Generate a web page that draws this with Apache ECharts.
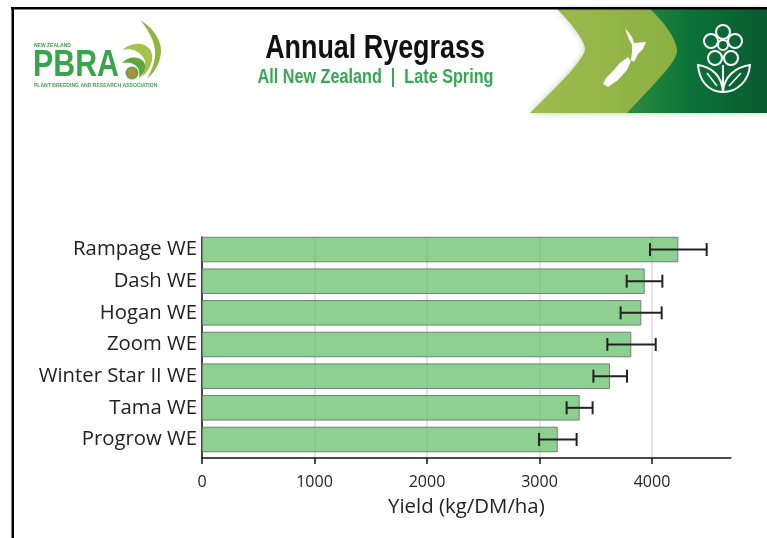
<!DOCTYPE html>
<html>
<head>
<meta charset="utf-8">
<style>
  html, body { margin: 0; padding: 0; background: #fff; }
  #chart { width: 767px; height: 538px; }
</style>
<script src="https://cdn.jsdelivr.net/npm/echarts@6/dist/echarts.min.js"></script>
</head>
<body>
<div id="chart"></div>
<script>
// top to bottom
var categories = ['Rampage WE', 'Dash WE', 'Hogan WE', 'Zoom WE', 'Winter Star II WE', 'Tama WE', 'Progrow WE'];
var yields = [4234, 3935, 3905, 3816, 3627, 3357, 3162];
var errLow = [3982, 3775, 3721, 3603, 3479, 3241, 2996];
var errHigh = [4486, 4092, 4086, 4033, 3778, 3472, 3330];
var xTicks = [0, 1000, 2000, 3000, 4000];

var head = '"Liberation Sans", sans-serif';
var body = '"Open Sans", sans-serif';

var chart = echarts.init(document.getElementById('chart'));

// the graphic component has no plain path type, so each outline gets registered as a shape
var shapeCount = 0;
function art(d, style) {
  var name = 'art' + (shapeCount++);
  echarts.graphic.registerShape(name, echarts.graphic.extendPath(d, {}));
  return { type: name, style: style };
}

// no narrow font is installed, so the header text is squeezed sideways
function squeezed(x, y, sx, text, font, fill, align) {
  return {
    type: 'text', x: x, y: y, scaleX: sx,
    style: { x: 0, y: 0, text: text, font: font, fill: fill, textAlign: align, textVerticalAlign: 'middle' }
  };
}

var whiteLine = { fill: 'none', stroke: '#fff', lineWidth: 2 };

// header artwork: logo, banner, frame
var header = [
  art('M557,9 C572,24 583,38 585,48 C586,56 570,74 530,113 L767,113 L767,9 Z', {
    fill: { type: 'linear', x: 0, y: 0, x2: 1, y2: 0, colorStops: [
      { offset: 0, color: '#9dbb4e' }, { offset: 1, color: '#82a93d' }] },
    shadowBlur: 6, shadowColor: 'rgba(120,140,80,0.45)' }),
  art('M650,9 C664,22 676,38 677,50 C678,60 660,78 627,113 L767,113 L767,9 Z', {
    fill: { type: 'linear', x: 0, y: 0, x2: 1, y2: 0, colorStops: [
      { offset: 0, color: '#2d8c3f' }, { offset: 0.45, color: '#0b7339' }, { offset: 1, color: '#0a5a31' }] } }),
  art('M625,28 L632,37 L634,43 L646,42 L643,49 L638,54 L634,62 L631,60 L632,52 L632,45 L628,37 Z', { fill: '#fff' }),
  art('M628,57 L631,61 L627,70 L618,80 L608,87 L603,84 L606,78 L613,71 L620,63 Z', { fill: '#fff' }),

  // flower icon
  { type: 'circle', shape: { cx: 723, cy: 45, r: 5 }, style: whiteLine },
  { type: 'circle', shape: { cx: 723, cy: 32, r: 7 }, style: whiteLine },
  { type: 'circle', shape: { cx: 735, cy: 41, r: 7 }, style: whiteLine },
  { type: 'circle', shape: { cx: 731, cy: 58, r: 7 }, style: whiteLine },
  { type: 'circle', shape: { cx: 715, cy: 58, r: 7 }, style: whiteLine },
  { type: 'circle', shape: { cx: 711, cy: 41, r: 7 }, style: whiteLine },
  { type: 'line', shape: { x1: 723, y1: 65, x2: 723, y2: 92 }, style: { stroke: '#fff', lineWidth: 2 } },
  art('M723,92 C708,92 699,80 698,65 C712,67 722,76 723,92 Z', whiteLine),
  art('M723,92 C738,92 749,80 750,65 C736,67 724,76 723,92 Z', whiteLine),
  { type: 'line', shape: { x1: 707, y1: 73, x2: 717, y2: 86 }, style: { stroke: '#fff', lineWidth: 1.5 } },
  { type: 'line', shape: { x1: 741, y1: 73, x2: 729, y2: 86 }, style: { stroke: '#fff', lineWidth: 1.5 } },

  // logo
  squeezed(34, 46, 1, 'NEW ZEALAND', 'bold 5px ' + head, '#3aa54a', 'left'),
  squeezed(33, 66, 0.82, 'PBRA', 'bold 37px ' + head, '#37a64a', 'left'),
  squeezed(34, 85, 0.92, 'PLANT BREEDING AND RESEARCH ASSOCIATION', 'bold 5.5px ' + head, '#3aa54a', 'left'),
  art('M140,20 C152,27 162,40 161,52 C160,64 154,73 147,79 C152,70 156,60 155,50 C154,40 148,29 140,20 Z', { fill: '#8fb73e' }),
  art('M122,50 C133,41 146,42 151,51 C155,60 149,71 142,77 C145,69 147,62 143,57 C138,50 130,48 122,50 Z', { fill: '#a5c24f' }),
  art('M122,63 C129,56 139,56 144,62 C147,67 144,74 139,78 C140,72 139,68 135,65 C131,62 127,62 122,63 Z', { fill: '#5fa63f' }),
  { type: 'circle', shape: { cx: 132, cy: 73, r: 6.5 }, style: { fill: '#5aa845' } },
  { type: 'circle', shape: { cx: 132, cy: 73, r: 4.5 }, style: { fill: '#b5893f' } },

  // titles
  squeezed(375, 49, 0.815, 'Annual Ryegrass', 'bold 33px ' + head, '#111', 'center'),
  squeezed(375.5, 77, 0.81, 'All New Zealand  |  Late Spring', 'bold 20px ' + head, '#35a853', 'center'),

  // frame of the slide
  { type: 'rect', shape: { x: 11, y: 7, width: 756, height: 2.5 }, style: { fill: '#000' } },
  { type: 'rect', shape: { x: 11.5, y: 7, width: 2.5, height: 531 }, style: { fill: '#000' } }
];

chart.setOption({
  backgroundColor: '#fff',
  animation: false,
  graphic: { elements: header },
  grid: [
    // frame of the axes
    { left: 202, top: 237, width: 528.75, height: 221 },
    // bands for the bars
    { left: 202, top: 233.7, width: 528.75, height: 221.6 }
  ],
  xAxis: [
    {
      gridIndex: 0, type: 'value', min: 0, max: 4700, interval: 1000,
      name: 'Yield (kg/DM/ha)', nameLocation: 'middle', nameGap: 39,
      nameTextStyle: { fontFamily: body, fontSize: 20.4, color: '#222' },
      axisLine: { show: true, lineStyle: { color: '#111', width: 1.5 } },
      axisTick: { show: true, length: 6, customValues: xTicks, lineStyle: { color: '#111', width: 1.5 } },
      axisLabel: {
        show: true, customValues: xTicks, margin: 16, fontFamily: body, fontSize: 16, color: '#222',
        formatter: function (v) { return String(v); }
      },
      splitLine: { show: true, lineStyle: { color: '#dcdcdc', width: 1.5 } }
    },
    { gridIndex: 1, type: 'value', min: 0, max: 4700, show: false, splitLine: { show: false } }
  ],
  yAxis: [
    {
      gridIndex: 0, type: 'category', data: categories, inverse: true,
      axisLine: { show: true, onZero: false, lineStyle: { color: '#111', width: 1.5 } },
      axisTick: { show: false }, axisLabel: { show: false }, splitLine: { show: false }
    },
    {
      gridIndex: 1, type: 'category', data: categories, inverse: true,
      axisLine: { show: false }, axisTick: { show: false },
      axisLabel: { show: true, margin: 5, fontFamily: body, fontSize: 20.3, color: '#222' }
    }
  ],
  series: [
    {
      type: 'bar', xAxisIndex: 1, yAxisIndex: 1, data: yields,
      barWidth: 25.5,
      itemStyle: { color: 'rgba(98,190,104,0.72)', borderColor: '#6b856d', borderWidth: 1 }
    },
    {
      type: 'custom', xAxisIndex: 1, yAxisIndex: 1, z: 5,
      data: categories.map(function (c, i) { return [i, errLow[i], errHigh[i]]; }),
      encode: { x: [1, 2], y: 0 },
      renderItem: function (params, api) {
        var lo = api.coord([api.value(1), api.value(0)]);
        var hi = api.coord([api.value(2), api.value(0)]);
        var cap = 6.5;
        var st = { stroke: '#222', lineWidth: 2, fill: null };
        return {
          type: 'group',
          children: [
            { type: 'line', shape: { x1: lo[0], y1: lo[1], x2: hi[0], y2: hi[1] }, style: st },
            { type: 'line', shape: { x1: lo[0], y1: lo[1] - cap, x2: lo[0], y2: lo[1] + cap }, style: st },
            { type: 'line', shape: { x1: hi[0], y1: hi[1] - cap, x2: hi[0], y2: hi[1] + cap }, style: st }
          ]
        };
      }
    }
  ]
});
</script>
</body>
</html>
